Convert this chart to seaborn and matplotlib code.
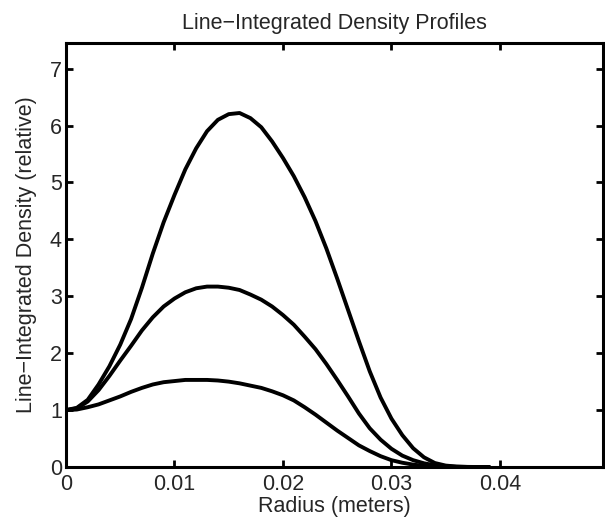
import pandas as pd
import matplotlib
matplotlib.use("Agg")
import matplotlib.pyplot as plt
import seaborn as sns

# radius grid (m), 1 mm steps
radius = [0.000, 0.001, 0.002, 0.003, 0.004, 0.005, 0.006, 0.007, 0.008, 0.009,
          0.010, 0.011, 0.012, 0.013, 0.014, 0.015, 0.016, 0.017, 0.018, 0.019,
          0.020, 0.021, 0.022, 0.023, 0.024, 0.025, 0.026, 0.027, 0.028, 0.029,
          0.030, 0.031, 0.032, 0.033, 0.034, 0.035, 0.036, 0.037, 0.038, 0.039]

# line-integrated density (relative), read from the three profiles
high = [1.00, 1.04, 1.18, 1.45, 1.77, 2.15, 2.60, 3.15, 3.75, 4.30,
        4.78, 5.23, 5.60, 5.90, 6.10, 6.20, 6.22, 6.13, 5.97, 5.72,
        5.43, 5.11, 4.74, 4.32, 3.84, 3.31, 2.76, 2.21, 1.68, 1.22,
        0.85, 0.56, 0.33, 0.17, 0.07, 0.025, 0.008, 0.002, 0.0, 0.0]
mid = [1.00, 1.03, 1.15, 1.35, 1.60, 1.87, 2.13, 2.40, 2.63, 2.82,
       2.96, 3.07, 3.14, 3.17, 3.17, 3.15, 3.11, 3.03, 2.94, 2.82,
       2.67, 2.50, 2.29, 2.07, 1.81, 1.53, 1.24, 0.94, 0.68, 0.48,
       0.32, 0.20, 0.12, 0.065, 0.03, 0.012, 0.004, 0.001, 0.0, 0.0]
low = [1.00, 1.01, 1.05, 1.10, 1.17, 1.24, 1.32, 1.39, 1.45, 1.49,
       1.51, 1.53, 1.53, 1.53, 1.52, 1.50, 1.47, 1.43, 1.39, 1.33,
       1.26, 1.17, 1.05, 0.92, 0.78, 0.64, 0.51, 0.38, 0.28, 0.19,
       0.12, 0.075, 0.042, 0.02, 0.008, 0.003, 0.0, 0.0, 0.0, 0.0]

x_ticks = [0, 0.01, 0.02, 0.03, 0.04]
x_labels = ["0", "0.01", "0.02", "0.03", "0.04"]
y_ticks = [0, 1, 2, 3, 4, 5, 6, 7]

df = pd.DataFrame({
    "radius": radius * 3,
    "density": high + mid + low,
    "profile": ["high"] * len(radius) + ["mid"] * len(radius) + ["low"] * len(radius),
})

sns.set_style("ticks")
plt.rcParams["font.family"] = ["Liberation Sans", "DejaVu Sans"]
fs = 15.5

fig = plt.figure(figsize=(6.05, 5.23), dpi=100)
ax = fig.add_axes([66 / 605, 1 - 467 / 523, (603 - 66) / 605, (467 - 43) / 523])

sns.lineplot(data=df, x="radius", y="density", hue="profile",
             palette=["black", "black", "black"], linewidth=2.8,
             solid_joinstyle="round", legend=False, ax=ax)

ax.set_xlim(0, 0.0495)
ax.set_ylim(0, 7.45)
ax.set_xticks(x_ticks)
ax.set_xticklabels(x_labels)
ax.set_yticks(y_ticks)
ax.tick_params(direction="in", top=True, right=True, length=5, width=2,
               labelsize=fs, color="black")
ax.tick_params(axis="x", pad=5)
ax.tick_params(axis="y", pad=3)
for s in ax.spines.values():
    s.set_linewidth(2.2)
    s.set_color("black")

ax.set_title("Line\u2212Integrated Density Profiles", fontsize=fs, pad=10)
ax.set_xlabel("Radius (meters)", fontsize=fs, labelpad=1)
ax.set_ylabel("Line\u2212Integrated Density (relative)", fontsize=fs, labelpad=9)

fig.savefig("out.png", dpi=100)
